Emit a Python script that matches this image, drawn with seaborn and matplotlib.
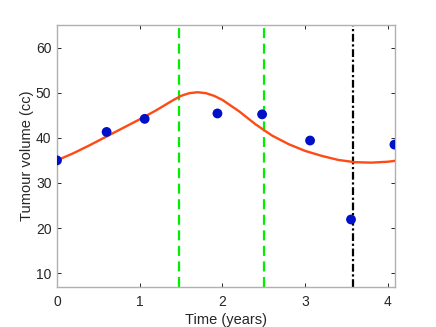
import pandas as pd
import matplotlib
matplotlib.use('Agg')
import matplotlib.pyplot as plt
import seaborn as sns

# Dados observados
tempo_obs = [0.0, 0.60, 1.06, 1.94, 2.48, 3.06, 3.555, 4.08]
volume_obs = [35.0, 41.3, 44.2, 45.4, 45.2, 39.4, 21.9, 38.5]

# Curva do modelo
tempo_mod = [0.0, 0.2, 0.4, 0.6, 0.8, 1.0, 1.2, 1.4, 1.5, 1.6, 1.7, 1.8, 1.9,
             2.0, 2.2, 2.4, 2.6, 2.8, 3.0, 3.2, 3.4, 3.6, 3.8, 4.0, 4.087]
volume_mod = [35.0, 36.6, 38.4, 40.3, 42.2, 44.1, 46.1, 48.3, 49.3, 49.9, 50.1,
              49.9, 49.3, 48.4, 45.9, 43.0, 40.5, 38.6, 37.1, 36.0, 35.1, 34.6,
              34.5, 34.7, 34.9]

# Linhas verticais
tratamento = [1.475, 2.507]
evento = 3.58

df_obs = pd.DataFrame({'Tempo': tempo_obs, 'Volume': volume_obs})
df_mod = pd.DataFrame({'Tempo': tempo_mod, 'Volume': volume_mod})

sns.set_style('white')
plt.rcParams['font.family'] = ['Liberation Sans', 'DejaVu Sans']

fig = plt.figure(figsize=(4.36, 3.27), dpi=100)
ax = fig.add_axes([0.1307, 0.1232, 0.7753, 0.8003])

for t in tratamento:
    ax.axvline(t, color='#00ee00', linestyle=(0, (4.5, 2.5)), linewidth=1.6, zorder=2)
ax.axvline(evento, color='black', linestyle=(0, (3.5, 1.2, 1, 1.2)), linewidth=1.6, zorder=2)

sns.lineplot(data=df_mod, x='Tempo', y='Volume', color='#ff4a14', linewidth=1.7,
             ax=ax, zorder=3)
sns.scatterplot(data=df_obs, x='Tempo', y='Volume', color='#0010c8', s=50,
                edgecolor='none', ax=ax, zorder=4)

ax.set_xlim(0, 4.087)
ax.set_ylim(7, 65)
ax.set_xticks([0, 1, 2, 3, 4])
ax.set_yticks([10, 20, 30, 40, 50, 60])
ax.set_xlabel('Time (years)', fontsize=10.5, color='#262626', labelpad=3)
ax.set_ylabel('Tumour volume (cc)', fontsize=10.5, color='#262626', labelpad=1)
ax.tick_params(direction='in', length=3, width=0.7, color='#262626',
               labelsize=10, labelcolor='#262626', top=True, right=True,
               bottom=True, left=True)
ax.tick_params(axis='x', pad=6)
ax.tick_params(axis='y', pad=4)
for s in ax.spines.values():
    s.set_color('#b0b0b0')
    s.set_linewidth(1.0)

fig.savefig('out.png', dpi=100)
